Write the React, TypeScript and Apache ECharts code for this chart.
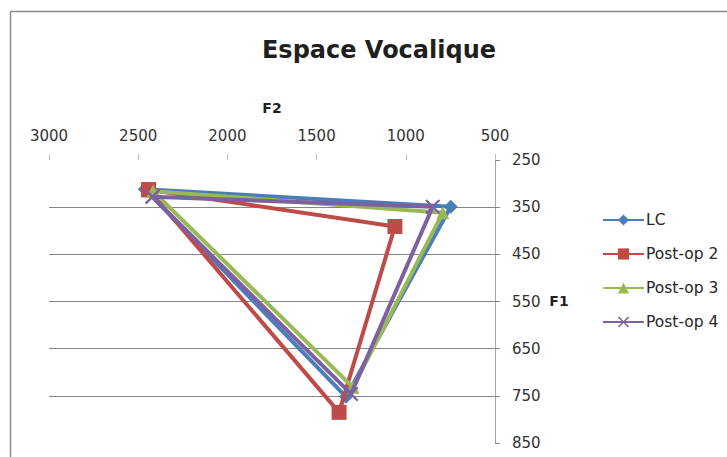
import React, { useEffect, useRef } from "react";
import * as echarts from "echarts";

// ---- Data (F2 / F1 formant values, each triangle closed i -> u -> a -> i) ----
const seriesNames = ["LC", "Post-op 2", "Post-op 3", "Post-op 4"];
const lcF2 = [2462, 748, 1335, 2462];
const lcF1 = [312, 349, 752, 312];
const post2F2 = [2442, 1061, 1374, 2442];
const post2F1 = [313, 391, 785, 313];
const post3F2 = [2417, 793, 1296, 2417];
const post3F1 = [316, 362, 732, 316];
const post4F2 = [2420, 849, 1307, 2420];
const post4F1 = [328, 349, 746, 328];

const xTickMin = 500;
const xTickMax = 3000;
const xTickStep = 500;
const yTickMin = 250;
const yTickMax = 850;
const yTickStep = 100;

const titleText = "Espace Vocalique";
const xName = "F2";
const yName = "F1";

const colors = ["#4A7EBB", "#BE4B48", "#98B954", "#7D60A0"];
const symbols = [
  "diamond",
  "rect",
  "triangle",
  "path://M1,0 L5,4 L9,0 L10,1 L6,5 L10,9 L9,10 L5,6 L1,10 L0,9 L4,5 L0,1 Z",
];
const symbolSizes = [14, 15, 13, 15];

const pairs = (xs: number[], ys: number[]) => xs.map((x, i) => [x, ys[i]]);

export default function App() {
  const ref = useRef<HTMLDivElement>(null);

  useEffect(() => {
    if (!ref.current) return;
    const chart = echarts.init(ref.current, undefined, { renderer: "svg" });
    const allData = [
      pairs(lcF2, lcF1),
      pairs(post2F2, post2F1),
      pairs(post3F2, post3F1),
      pairs(post4F2, post4F1),
    ];
    const font = "DejaVu Sans";
    chart.setOption({
      animation: false,
      backgroundColor: "#ffffff",
      textStyle: { fontFamily: font },
      title: {
        text: titleText,
        left: 374,
        top: 33,
        textAlign: "center",
        textStyle: { fontFamily: font, fontSize: 24, fontWeight: "bold", color: "#1f1f1f" },
      },
      graphic: [
        { type: "line", shape: { x1: 10.5, y1: 11.5, x2: 10.5, y2: 470 }, style: { stroke: "#8c8c8c", lineWidth: 1.5 } },
        { type: "line", shape: { x1: 10.5, y1: 11.5, x2: 740, y2: 11.5 }, style: { stroke: "#8c8c8c", lineWidth: 1.5 } },
        {
          type: "text",
          x: 272,
          y: 108,
          style: { text: xName, fontFamily: font, fontSize: 14, fontWeight: "bold", fill: "#1f1f1f", textAlign: "center", textVerticalAlign: "middle" },
        },
        {
          type: "text",
          x: 559,
          y: 301,
          style: { text: yName, fontFamily: font, fontSize: 14, fontWeight: "bold", fill: "#1f1f1f", textAlign: "center", textVerticalAlign: "middle" },
        },
      ],
      legend: {
        orient: "vertical",
        left: 597,
        top: 206,
        itemWidth: 41,
        itemHeight: 14,
        itemGap: 16,
        data: seriesNames,
        textStyle: { fontFamily: font, fontSize: 15.5, color: "#262626", lineHeight: 18, padding: [0, 0, 0, -3] },
      },
      grid: { left: 49, top: 160, width: 446, height: 283, containLabel: false },
      xAxis: {
        type: "value",
        position: "top",
        inverse: true,
        min: xTickMin,
        max: xTickMax,
        interval: xTickStep,
        axisLine: { show: false },
        axisTick: { show: true, length: 6, lineStyle: { color: "#bdbdbd" } },
        axisLabel: { margin: 17, fontFamily: font, fontSize: 15, color: "#333333", formatter: (v: number) => String(v) },
        splitLine: { show: false },
      },
      yAxis: {
        type: "value",
        position: "right",
        inverse: true,
        min: yTickMin,
        max: yTickMax,
        interval: yTickStep,
        axisLine: { show: true, lineStyle: { color: "#a6a6a6", width: 1 } },
        axisTick: { show: true, length: 5, lineStyle: { color: "#868686" } },
        axisLabel: { margin: 17, fontFamily: font, fontSize: 15, color: "#333333", formatter: (v: number) => String(v) },
        splitLine: { show: true, showMinLine: false, showMaxLine: false, lineStyle: { color: "#868686", width: 1 } },
      },
      series: seriesNames.map((name, i) => ({
        name,
        type: "line",
        data: allData[i],
        symbol: symbols[i],
        symbolSize: symbolSizes[i],
        showAllSymbol: true,
        color: colors[i],
        itemStyle: { color: colors[i] },
        lineStyle: { color: colors[i], width: 4 },
        z: 2 + i,
      })),
    });
    return () => chart.dispose();
  }, []);

  return (
    <div
      ref={ref}
      style={{ position: "fixed", left: 0, top: 0, width: 727, height: 457, background: "#fff" }}
    />
  );
}
